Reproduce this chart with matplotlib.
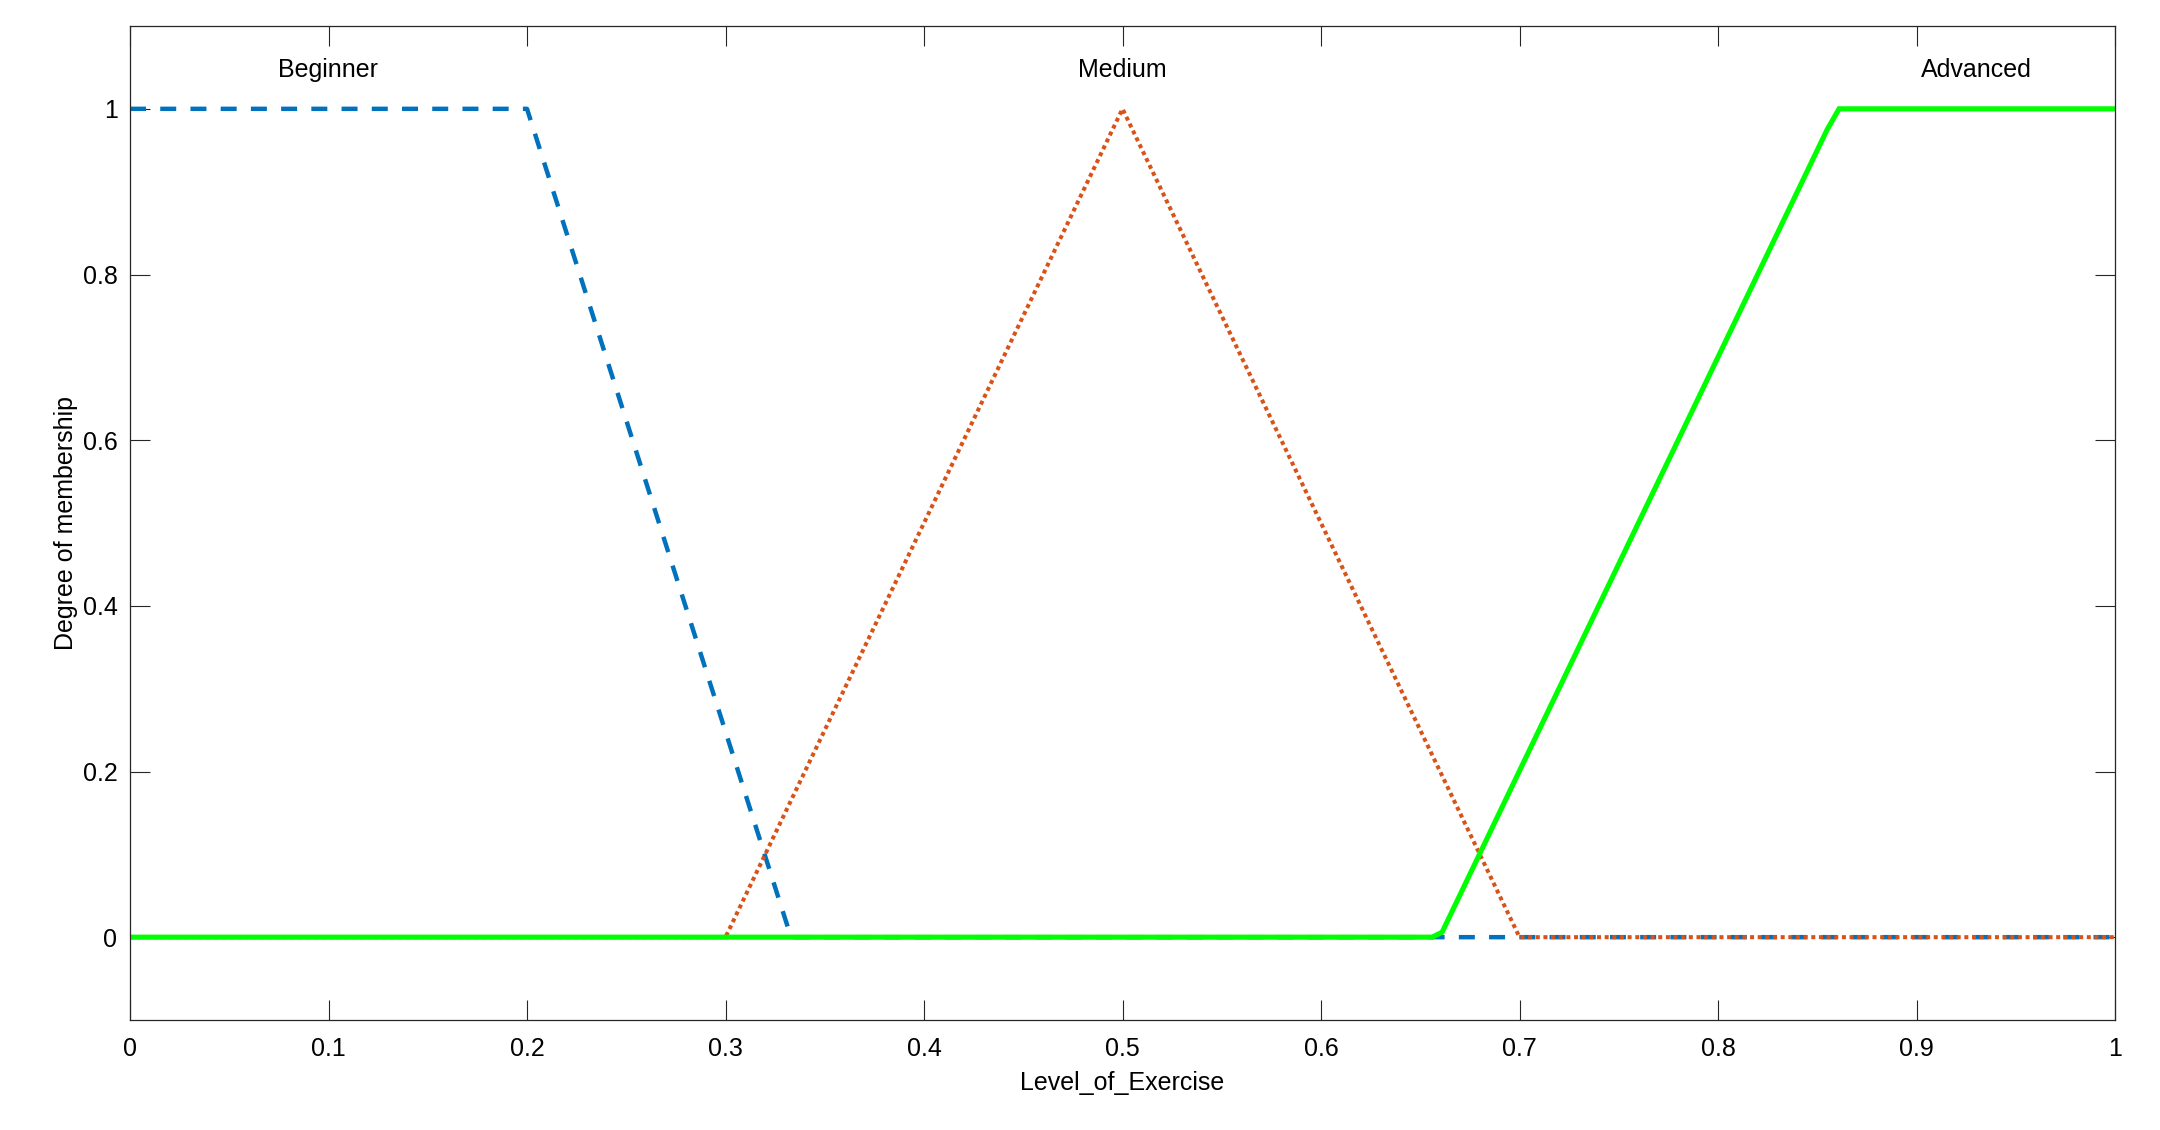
import matplotlib.pyplot as plt

plt.rcParams['font.family'] = ['Liberation Sans', 'DejaVu Sans']

# membership functions for Level_of_Exercise (breakpoints)
beginner_x = [0.0, 0.2, 0.333, 1.0]
beginner_y = [1.0, 1.0, 0.0, 0.0]

medium_x = [0.0, 0.3, 0.5, 0.7, 1.0]
medium_y = [0.0, 0.0, 1.0, 0.0, 0.0]

advanced_x = [0.0, 0.656, 0.661, 0.855, 0.861, 1.0]
advanced_y = [0.0, 0.0, 0.006, 0.975, 1.0, 1.0]

mf_names = ['Beginner', 'Medium', 'Advanced']
name_x = [0.1, 0.5, 0.93]
xticks = [0, 0.1, 0.2, 0.3, 0.4, 0.5, 0.6, 0.7, 0.8, 0.9, 1]
yticks = [0, 0.2, 0.4, 0.6, 0.8, 1]

fig = plt.figure(figsize=(21.6, 11.3), dpi=100)
ax = fig.add_axes([130 / 2160, 1 - 1020 / 1130, 1985 / 2160, 994 / 1130])

ax.plot(beginner_x, beginner_y, color='#0072BD', lw=3.2, dashes=(3.6, 3.2))
ax.plot(medium_x, medium_y, color='#D95319', lw=2.9, dashes=(1, 0.9))
ax.plot(advanced_x, advanced_y, color='#00FF00', lw=3.7, solid_joinstyle='miter')

for name, x in zip(mf_names, name_x):
    ax.text(x, 1.047, name, ha='center', va='center', fontsize=18, color='black')

ax.set_xlim(0, 1)
ax.set_ylim(-0.1, 1.1)
ax.set_xticks(xticks)
ax.set_xticklabels([f'{t:g}' for t in xticks])
ax.set_yticks(yticks)
ax.set_yticklabels([f'{t:g}' for t in yticks])
ax.tick_params(axis='x', pad=12.5)
ax.tick_params(axis='y', pad=9)
ax.tick_params(direction='in', length=14.5, width=0.8, color='#262626',
               top=True, right=True, labelsize=18)

for sp in ax.spines.values():
    sp.set_color('#262626')
    sp.set_linewidth(0.9)

ax.set_xlabel('Level_of_Exercise', fontsize=18, labelpad=7)
ax.set_ylabel('Degree of membership', fontsize=18, labelpad=3)

fig.savefig('out.png', dpi=100, facecolor='white')
